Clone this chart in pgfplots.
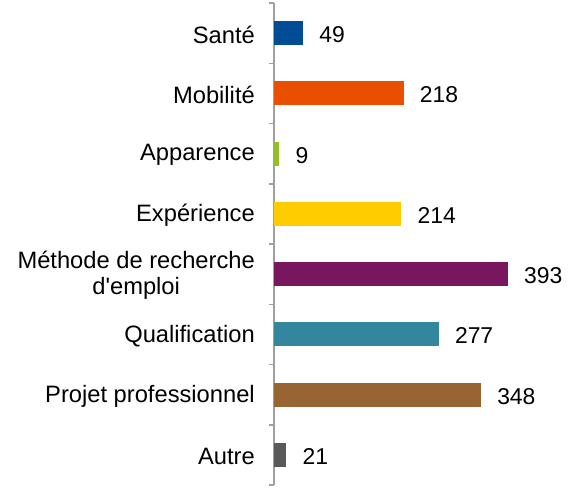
\documentclass[border=0pt]{standalone}
\usepackage{pgfplots}
\pgfplotsset{compat=1.18}
\usepackage{fontspec}
\setmainfont{Liberation Sans}[Ligatures=TeXOff]
\definecolor{cSante}{RGB}{0,77,150}
\definecolor{cMob}{RGB}{234,79,0}
\definecolor{cApp}{RGB}{146,190,40}
\definecolor{cExp}{RGB}{255,204,0}
\definecolor{cMeth}{RGB}{120,22,94}
\definecolor{cQual}{RGB}{50,134,157}
\definecolor{cProj}{RGB}{152,100,52}
\definecolor{cAut}{RGB}{89,89,89}
\definecolor{axisgray}{RGB}{160,160,160}
\begin{document}
\begin{tikzpicture}
\begin{axis}[
  at={(0,0)}, anchor=south west,
  scale only axis, width=297.5bp, height=482bp,
  xmin=0, xmax=500, ymin=-0.5, ymax=7.5,
  axis x line=none, axis y line*=left,
  y axis line style={draw=axisgray, line width=1.5bp},
  ytick={0,...,7},
  yticklabels={Autre, Projet professionnel, Qualification, {Méthode de recherche\\d'emploi}, Expérience, Apparence, Mobilité, Santé},
  major tick length=0pt,
  minor ytick={-0.5,0.5,...,7.5},
  minor tick length=5bp,
  tick align=outside,
  minor tick style={draw=axisgray, line width=1.5bp},
  yticklabel style={font=\fontsize{23.8}{26}\selectfont, align=center, inner sep=0pt, xshift=-19bp, yshift=-1.5bp},
  xbar, bar width=0.4, bar shift=0pt,
  /pgf/number format/assume math mode=true,
  nodes near coords,
  nodes near coords style={font=\fontsize{23}{26}\selectfont, anchor=west, inner sep=0pt, xshift=16bp, yshift=-1.5bp, text=black},
]
\addplot[fill=cSante, draw=none] coordinates {(49,7)};
\addplot[fill=cMob, draw=none] coordinates {(218,6)};
\addplot[fill=cApp, draw=none] coordinates {(9,5)};
\addplot[fill=cExp, draw=none] coordinates {(214,4)};
\addplot[fill=cMeth, draw=none] coordinates {(393,3)};
\addplot[fill=cQual, draw=none] coordinates {(277,2)};
\addplot[fill=cProj, draw=none] coordinates {(348,1)};
\addplot[fill=cAut, draw=none] coordinates {(21,0)};
\end{axis}
\pgfresetboundingbox
\path[use as bounding box] (-274bp,-3bp) rectangle (302bp,485bp);
\end{tikzpicture}
\end{document}
